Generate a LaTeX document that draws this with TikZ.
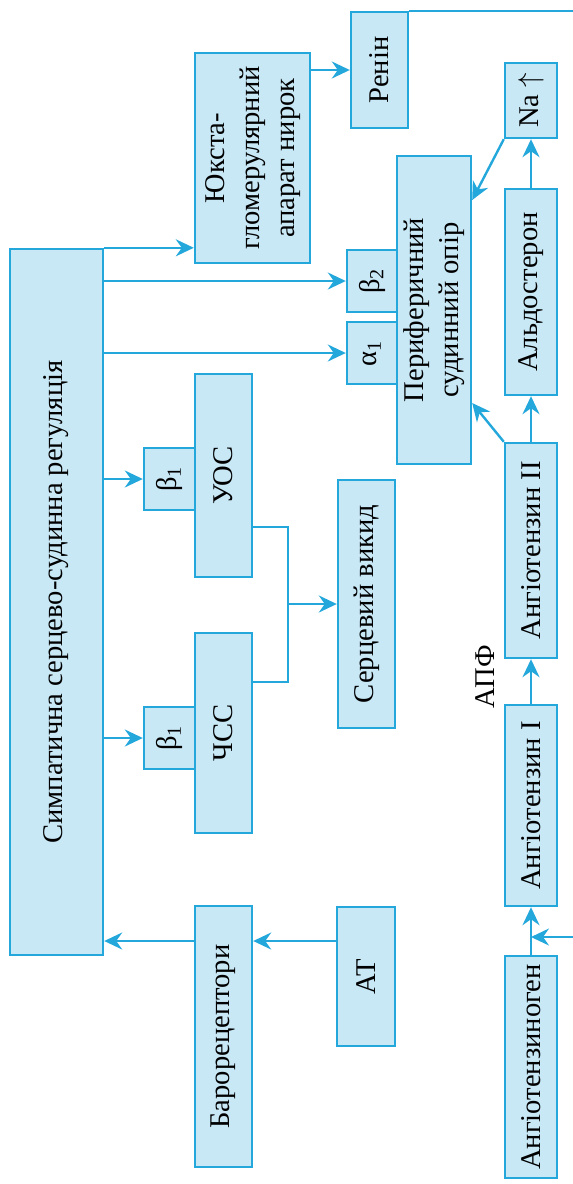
\documentclass[tikz,border=0pt]{standalone}
\usepackage{fontspec}
\setmainfont{Liberation Serif}
\usepackage{graphicx}
\usetikzlibrary{positioning}
\usetikzlibrary{calc}
\usetikzlibrary{arrows.meta}

\begin{document}
\begin{tikzpicture}[x=0.5pt,y=-0.5pt,
		box/.style={draw=boxline,line width=1.2pt,fill=boxfill,inner sep=0pt,font=\fontsize{14.3}{17.5}\selectfont},
		wh/.style 2 args={minimum width=#1*0.5pt,minimum height=#2*0.5pt},
		lin/.style={draw=boxline,line width=1.2pt},
		arr/.style={lin,-{Stealth[length=9pt,width=8.5pt,inset=3pt]}}]
				\definecolor{boxfill}{RGB}{200,232,246}
				\definecolor{boxline}{RGB}{36,168,220}
				\useasboundingbox (0,0) rectangle (573,1184);
				\clip (0,0) rectangle (573,1184);
				
				% main regulation box
				\node[box,wh={93}{706}] (main) at (56.5,602) {\rotatebox{90}{Симпатична серцево-судинна регуляція}};
				
				% heart
				\node[box,wh={51}{62}] (b1a) at (169.5,479) {\rotatebox{90}{β\textsubscript{1}}};
				\node[box,wh={57}{203}] (uos) at (223.5,475.5) {\rotatebox{90}{УОС}};
				\node[box,wh={51}{62}] (b1b) at (169.5,738) {\rotatebox{90}{β\textsubscript{1}}};
				\node[box,wh={57}{200}] (chss) at (223.5,733) {\rotatebox{90}{ЧСС}};
				\node[box,wh={57}{248}] (output) at (366.5,604) {\rotatebox{90}{Серцевий викид}};
				
				% baroreflex
				\node[box,wh={57}{261}] (baro) at (223.5,1036.5) {\rotatebox{90}{Барорецептори}};
				\node[box,wh={58}{139}] (at) at (366,976.5) {\rotatebox{90}{АТ}};
				
				% vessels and kidney
				\node[box,wh={115}{210}] (juxta) at (252.5,158) {\rotatebox{90}{\begin{tabular}{@{}c@{}}Юкста-\\гломерулярний\\апарат нирок\end{tabular}}};
				\node[box,wh={57}{116}] (renin) at (379.5,70) {\rotatebox{90}{Ренін}};
				\node[box,wh={50}{62}] (beta2) at (372,281) {\rotatebox{90}{β\textsubscript{2}}};
				\node[box,wh={50}{62}] (alpha1) at (372,353) {\rotatebox{90}{α\textsubscript{1}}};
				\node[box,wh={74}{308}] (periph) at (434,310) {\rotatebox{90}{\begin{tabular}{@{}c@{}}Периферичний\\судинний опір\end{tabular}}};
				
				% renin-angiotensin chain
				\node[box,wh={52}{75}] (na) at (531,100.5) {\rotatebox{90}{Na $\uparrow$}};
				\node[box,wh={52}{206}] (aldo) at (531,292) {\rotatebox{90}{Альдостерон}};
				\node[box,wh={52}{215}] (ang2) at (531,550.5) {\rotatebox{90}{Ангіотензин II}};
				\node[box,wh={52}{201}] (ang1) at (531,805.5) {\rotatebox{90}{Ангіотензин I}};
				\node[box,wh={52}{222}] (angen) at (531,1067) {\rotatebox{90}{Ангіотензиноген}};
				\node[font=\fontsize{14.3}{17.5}\selectfont,inner sep=0pt] (apf) at (485,677) {\rotatebox{90}{АПФ}};
				
				\coordinate (r1) at (0,941);
				\coordinate (ra) at (0,937);
				\coordinate (rend) at (600,937);
				\coordinate (ua) at (288,527);
				\coordinate (cb) at (288,682);
				\coordinate (jn) at (288,604);
				
				\draw[arr] (main.north east) -- (main.north east -| juxta.west);
				\draw[arr] (main.east |- beta2.west) -- (beta2.west);
				\draw[arr] (main.east |- alpha1.west) -- (alpha1.west);
				\draw[arr] (main.east |- b1a.west) -- (b1a.west);
				\draw[arr] (main.east |- b1b.west) -- (b1b.west);
				\draw[arr] (at.west |- r1) -- (baro.east |- r1);
				\draw[arr] (baro.west |- r1) -- (main.east |- r1);
				
				\draw[lin] (uos.east |- ua) -- (ua) -- (cb) -- (chss.east |- cb);
				\draw[arr] (jn) -- (jn -| output.west);
				
				\draw[arr] (juxta.east |- renin.west) -- (renin.west);
				\draw[arr] (renin.north east) -| (rend) -- (ang1.south |- ra);
				\draw[arr] (angen) -- (ang1);
				\draw[arr] (ang1) -- (ang2);
				\draw[arr] (ang2) -- (aldo);
				\draw[arr] (aldo) -- (na);
				\draw[arr] (na.south west) -- ([yshift=55pt]periph.east);
				\draw[arr] (ang2.north west) -- ([yshift=-46.5pt]periph.east);
			\end{tikzpicture}
\end{document}
